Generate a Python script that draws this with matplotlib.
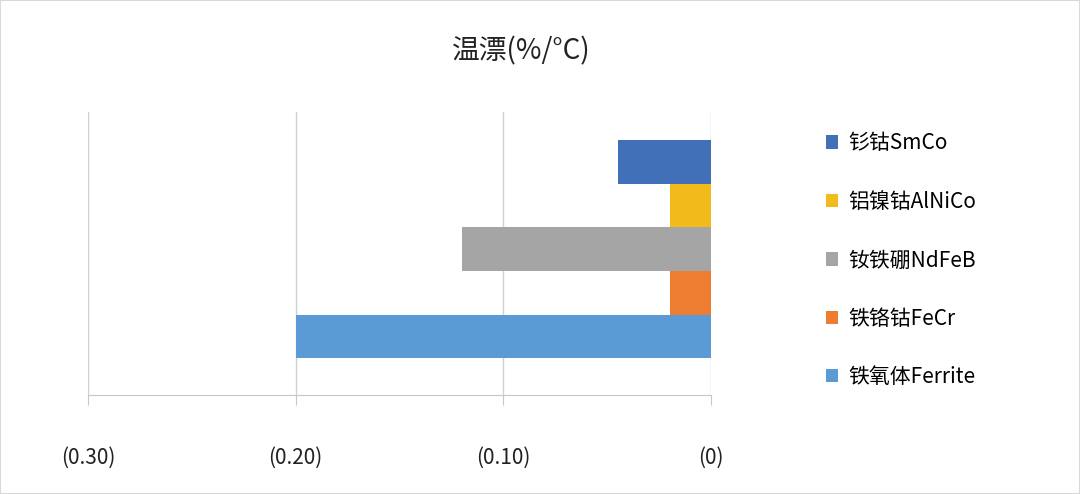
import matplotlib.pyplot as plt
from matplotlib.patches import Rectangle

plt.rcParams['font.family'] = ['Noto Sans CJK SC', 'DejaVu Sans']

# bottom to top
names = ["铁氧体Ferrite", "铁铬钴FeCr", "钕铁硼NdFeB", "铝镍钴AlNiCo", "钐钴SmCo"]
values = [-0.20, -0.02, -0.12, -0.02, -0.045]
colors = ["#5B9BD5", "#ED7D31", "#A5A5A5", "#F2BA1B", "#4270B8"]
xticks = [-0.30, -0.20, -0.10, 0]
xtick_labels = ["(0.30)", "(0.20)", "(0.10)", "(0)"]

fig = plt.figure(figsize=(10.8, 4.94), dpi=100)
ax = fig.add_axes([0.0815, 0.2, 0.577, 0.573])

bars = ax.barh(range(len(values)), values, height=1.0, color=colors)
ax.set_xlim(-0.30, 0)
ax.set_ylim(-0.5 - 0.85, 4.5 + 0.64)
ax.set_xticks(xticks)
ax.set_xticklabels(xtick_labels, fontsize=15, color="#222222")
ax.set_yticks([])
ax.grid(axis='x', color="#d0d0d0", linewidth=1)
ax.set_axisbelow(True)
for s in ["top", "right", "left"]:
    ax.spines[s].set_visible(False)
ax.spines["bottom"].set_color("#c8c8c8")
ax.tick_params(axis='x', length=7, color="#c8c8c8", pad=30)

fig.text(0.483, 0.895, "温漂(%/°C)", fontsize=20, ha="center", va="center", color="#222222")

handles = [bars[i] for i in reversed(range(len(values)))]
labels = list(reversed(names))
fig.legend(handles, labels, loc="upper left", bbox_to_anchor=(0.747, 0.77),
           frameon=False, fontsize=15, labelspacing=1.75,
           handlelength=0.6, handleheight=0.6, handletextpad=0.5)

fig.patches.append(Rectangle((0, 0), 1, 1, transform=fig.transFigure,
                             fill=False, edgecolor="#d9d9d9", linewidth=1.5))

fig.savefig("out.png", dpi=100)
